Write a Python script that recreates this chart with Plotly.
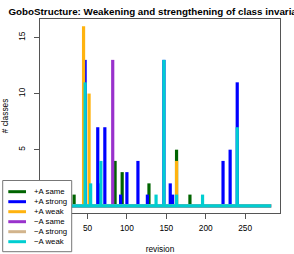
import plotly.graph_objects as go

# ---- data ----
revisions = list(range(1, 284))

series_names = ["+A same", "+A strong", "+A weak", "\u2212A same", "\u2212A strong", "\u2212A weak"]
series_colors = ["#006400", "#0000FF", "#FFB30F", "#9932CC", "#D2B48C", "#00CED1"]

plus_same_rev = [33, 85, 94, 128, 163, 180]
plus_same_val = [1, 4, 3, 2, 5, 1]
plus_strong_rev = [47, 63, 65, 72, 92, 100, 114, 126, 147, 155, 158, 222, 231, 240]
plus_strong_val = [13, 7, 2, 7, 1, 3, 4, 1, 13, 2, 1, 4, 5, 11]
plus_weak_rev = [45, 52, 163]
plus_weak_val = [16, 10, 4]
minus_same_rev = [82]
minus_same_val = [13]
minus_strong_rev = []
minus_strong_val = []
minus_weak_rev = [47, 54, 67, 137, 147, 163, 196, 240]
minus_weak_val = [11, 2, 4, 1, 13, 1, 1, 7]

x_ticks = [0, 50, 100, 150, 200, 250]
y_ticks = [0, 5, 10, 15]

title_text = "GoboStructure: Weakening and strengthening of class invariants"
x_title = "revision"
y_title = "# classes"

# ---- figure ----
W, H = 294, 254
ML, MR, MT, MB = 40, 14, 19, 41
PW, PH = W - ML - MR, H - MT - MB
FONT = "Liberation Sans, Arial, Helvetica, sans-serif"


def px(xp):
    return (xp - ML) / PW


def py(yp):
    return (H - MB - yp) / PH


series = [
    (plus_same_rev, plus_same_val),
    (plus_strong_rev, plus_strong_val),
    (plus_weak_rev, plus_weak_val),
    (minus_same_rev, minus_same_val),
    (minus_strong_rev, minus_strong_val),
    (minus_weak_rev, minus_weak_val),
]

fig = go.Figure()

LW = 3.2
for (revs, vals), name, col in zip(series, series_names, series_colors):
    xs, ys = [], []
    for r, v in zip(revs, vals):
        xs += [r, r, None]
        ys += [0, v, None]
    fig.add_trace(go.Scatter(x=revisions, y=[0] * len(revisions), mode="lines",
                             line=dict(color=col, width=LW), showlegend=False,
                             hoverinfo="skip"))
    fig.add_trace(go.Scatter(x=xs, y=ys, mode="lines", name=name,
                             line=dict(color=col, width=LW), showlegend=False))

all_vals = [v for _, vals in series for v in vals] + [0]
xmin, xmax = min(revisions), max(revisions)
ymin, ymax = min(all_vals), max(all_vals)
xpad = 0.04 * (xmax - xmin)
ypad = 0.04 * (ymax - ymin)

axis_common = dict(
    showgrid=False, zeroline=False, showline=True, mirror=True,
    linecolor="#555555", linewidth=1, automargin=False,
    ticks="outside", ticklen=5, tickcolor="#555555", tickwidth=1,
    tickfont=dict(family=FONT, size=8.3, color="#000000"),
)

fig.update_layout(
    width=W, height=H,
    margin=dict(l=ML, r=MR, t=MT, b=MB, autoexpand=False),
    paper_bgcolor="white", plot_bgcolor="white",
    showlegend=False,
    title=dict(text="<b>" + title_text + "</b>", x=0.5, xref="paper",
               xanchor="center", y=1 - 11.5 / H, yref="container", yanchor="middle",
               automargin=False,
               font=dict(family=FONT, size=9.8, color="#000000")),
    xaxis=dict(range=[xmin - xpad, xmax + xpad], tickvals=x_ticks,
               ticklabelstandoff=2,
               title=dict(text=x_title, font=dict(family=FONT, size=8.3, color="#000000"),
                          standoff=16),
               **axis_common),
    yaxis=dict(range=[ymin - ypad, ymax + ypad], tickvals=y_ticks, tickangle=-90,
               ticklabelstandoff=6,
               title=dict(text=y_title, font=dict(family=FONT, size=8.3, color="#000000"),
                          standoff=10),
               **axis_common),
)

# ---- legend box (drawn manually to match R's compact legend) ----
shapes = [dict(type="rect", xref="paper", yref="paper",
               x0=px(2.7), x1=px(71.7), y0=py(251.7), y1=py(180.5),
               line=dict(color="#777777", width=1), fillcolor="white", layer="above")]
annotations = []
for i, (name, col) in enumerate(zip(series_names, series_colors)):
    yy = 191.7 + 10 * i
    shapes.append(dict(type="line", xref="paper", yref="paper",
                       x0=px(8.3), x1=px(26), y0=py(yy), y1=py(yy),
                       line=dict(color=col, width=3), layer="above"))
    annotations.append(dict(text=name, xref="paper", yref="paper",
                            x=px(33), y=py(yy), xanchor="left", yanchor="middle",
                            showarrow=False, borderpad=0,
                            font=dict(family=FONT, size=7.8, color="#000000")))
fig.update_layout(shapes=shapes, annotations=annotations)

fig.write_html("out.html", config={"displayModeBar": False},
               post_script="document.body.style.margin='0';document.body.style.overflow='hidden';")
